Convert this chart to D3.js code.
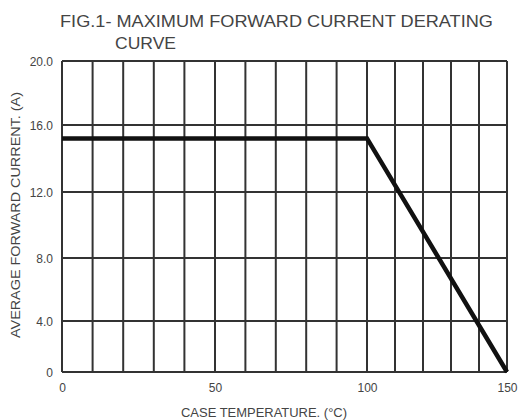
<!DOCTYPE html>
<html>
<head>
<meta charset="utf-8">
<script src="https://cdn.jsdelivr.net/npm/d3@7"></script>
<style>
  html, body { margin: 0; padding: 0; background: #fff; }
  svg { display: block; }
  text { font-family: "Liberation Sans", Arial, sans-serif; fill: #444; }
</style>
</head>
<body>
<svg id="chart" width="519" height="420"></svg>
<script>
// ---- data ----
const titleLines = ["FIG.1- MAXIMUM FORWARD CURRENT DERATING", "CURVE"];
const xLabel = "CASE TEMPERATURE. (°C)";
const yLabel = "AVERAGE FORWARD CURRENT. (A)";
const caseTempC = [0, 100, 150];          // x values of the curve
const avgCurrentA = [15.2, 15.2, 0];      // y values of the curve
const xGridValues = [0,10,20,30,40,50,60,70,80,90,100,110,120,130,140,150];
const xTickValues = [0, 50, 100, 150];
const xTickLabels = ["0", "50", "100", "150"];
const yTickValues = [0, 4, 8, 12, 16, 20];
const yTickLabels = ["0", "4.0", "8.0", "12.0", "16.0", "20.0"];

(function () {
// ---- layout ----
const svg = d3.select("#chart");
// piecewise-linear scales follow the (slightly uneven) printed grid of the original figure
const x = d3.scaleLinear().domain(xTickValues).range([62, 215, 367, 507]);
const y = d3.scaleLinear().domain(yTickValues).range([372, 321, 258, 192, 125, 61]);
const xMin = xTickValues[0], xMax = xTickValues[xTickValues.length - 1];
const yMin = yTickValues[0], yMax = yTickValues[yTickValues.length - 1];

// grid
const grid = svg.append("g").attr("stroke", "#333").attr("stroke-width", 2);
grid.selectAll("line.v").data(xGridValues).join("line")
  .attr("class", "v")
  .attr("x1", d => x(d)).attr("x2", d => x(d))
  .attr("y1", y(yMin)).attr("y2", y(yMax));
grid.selectAll("line.h").data(yTickValues).join("line")
  .attr("class", "h")
  .attr("x1", x(xMin)).attr("x2", x(xMax))
  .attr("y1", d => y(d)).attr("y2", d => y(d));

// axes (labels only, via d3 axis)
const xAxis = d3.axisBottom(x).tickValues(xTickValues)
  .tickFormat((d, i) => xTickLabels[i]).tickSize(0).tickPadding(11);
const gx = svg.append("g").attr("transform", `translate(0,${y(yMin)})`).call(xAxis);
gx.select(".domain").remove();
gx.selectAll("text").style("font-size", "12px").attr("fill", "#444")
  .style("font-family", "'Liberation Sans', Arial, sans-serif");

const yAxis = d3.axisLeft(y).tickValues(yTickValues)
  .tickFormat((d, i) => yTickLabels[i]).tickSize(0).tickPadding(9);
const gy = svg.append("g").attr("transform", `translate(${x(xMin)},0)`).call(yAxis);
gy.select(".domain").remove();
gy.selectAll("text").style("font-size", "12px").attr("fill", "#444")
  .style("font-family", "'Liberation Sans', Arial, sans-serif")
  .attr("dy", "0.4em");

// curve
const pts = caseTempC.map((t, i) => [t, avgCurrentA[i]]);
svg.append("path")
  .datum(pts)
  .attr("fill", "none")
  .attr("stroke", "#111")
  .attr("stroke-width", 4.5)
  .attr("stroke-linejoin", "miter")
  .attr("d", d3.line().x(d => x(d[0])).y(d => y(d[1])));

// title
svg.append("text").attr("x", 60).attr("y", 27)
  .style("font-size", "17px")
  .attr("textLength", 433).attr("lengthAdjust", "spacingAndGlyphs")
  .text(titleLines[0]);
svg.append("text").attr("x", 115).attr("y", 49)
  .style("font-size", "17px")
  .attr("textLength", 61).attr("lengthAdjust", "spacingAndGlyphs")
  .text(titleLines[1]);

// axis titles
svg.append("text").attr("x", 264).attr("y", 417)
  .attr("text-anchor", "middle")
  .style("font-size", "12.5px")
  .attr("textLength", 166).attr("lengthAdjust", "spacingAndGlyphs")
  .text(xLabel);

svg.append("text")
  .attr("transform", "translate(20,215) rotate(-90)")
  .attr("text-anchor", "middle")
  .style("font-size", "12.5px")
  .attr("textLength", 246).attr("lengthAdjust", "spacingAndGlyphs")
  .text(yLabel);
})();
</script>
</body>
</html>
